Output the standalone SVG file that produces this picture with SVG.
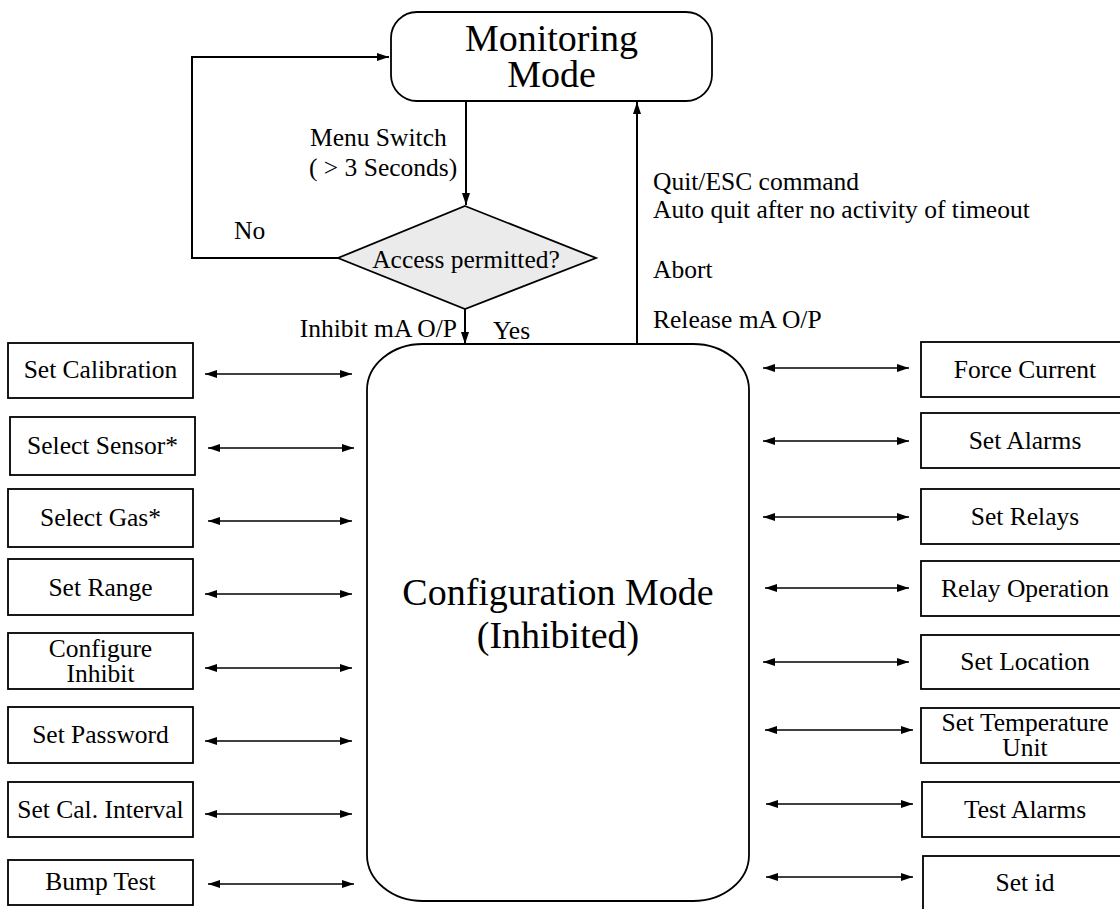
<svg xmlns="http://www.w3.org/2000/svg" width="1120" height="909" viewBox="0 0 1120 909">
<style>
text{font-family:"Liberation Serif","Times New Roman",serif;fill:#000}
.s{font-size:25.5px}
.b{font-size:38px}
.c{text-anchor:middle}
.box{fill:#fff;stroke:#000;stroke-width:1.8}
.ln{fill:none;stroke:#000;stroke-width:2}
.da{fill:none;stroke:#000;stroke-width:1.7;marker-start:url(#ah);marker-end:url(#ah)}
</style>
<defs>
<marker id="ah" viewBox="0 0 12 8" refX="12" refY="4" markerWidth="12" markerHeight="8" markerUnits="userSpaceOnUse" orient="auto-start-reverse">
<path d="M0,0 L12,4 L0,8 z" fill="#000"/>
</marker>
</defs>
<rect width="1120" height="909" fill="#fff"/>

<g id="connectors">
<path class="ln" d="M338,258 H192 V57 H389" marker-end="url(#ah)"/>
<path class="ln" d="M466,101 V205" marker-end="url(#ah)"/>
<path class="ln" d="M465,309 V344" marker-end="url(#ah)"/>
<path class="ln" d="M637,344 V102" marker-end="url(#ah)"/>
<path class="da" d="M205,374 H352"/>
<path class="da" d="M208,448 H354"/>
<path class="da" d="M208,521 H352"/>
<path class="da" d="M205,594 H352"/>
<path class="da" d="M205,668 H352"/>
<path class="da" d="M205,741 H352"/>
<path class="da" d="M205,814 H352"/>
<path class="da" d="M208,884 H354"/>
<path class="da" d="M763,368 H909"/>
<path class="da" d="M763,441 H909"/>
<path class="da" d="M763,517 H909"/>
<path class="da" d="M765,588 H909"/>
<path class="da" d="M763,662 H909"/>
<path class="da" d="M765,730 H913"/>
<path class="da" d="M766,804 H913"/>
<path class="da" d="M766,877 H913"/>
<text class="s" x="310" y="146">Menu Switch</text>
<text class="s" x="309" y="176">( &gt; 3 Seconds)</text>
<text class="s" x="234" y="239">No</text>
<text class="s" x="457" y="337" text-anchor="end">Inhibit mA O/P</text>
<text class="s" x="493" y="339">Yes</text>
<text class="s" x="653" y="190">Quit/ESC command</text>
<text class="s" x="653" y="218">Auto quit after no activity of timeout</text>
<text class="s" x="653" y="278">Abort</text>
<text class="s" x="653" y="328">Release mA O/P</text>
</g>

<g id="monitoring">
<rect class="box" x="391" y="12" width="321" height="89" rx="26" ry="26"/>
<text class="b c" x="551.5" y="51">Monitoring</text>
<text class="b c" x="551.5" y="87">Mode</text>
</g>

<g id="access">
<polygon points="465,206 596,258 465,309 338,258" fill="#ebebeb" stroke="#000" stroke-width="1.8"/>
<text class="s c" x="466" y="268">Access permitted?</text>
</g>

<g id="config">
<rect class="box" x="367" y="344" width="382" height="557" rx="56" ry="46"/>
<text class="b c" x="558" y="605">Configuration Mode</text>
<text class="b c" x="558" y="648">(Inhibited)</text>
</g>

<g id="set-calibration"><rect class="box" x="8" y="343" width="185" height="55"/><text class="s c" x="100.5" y="378">Set Calibration</text></g>
<g id="select-sensor"><rect class="box" x="10" y="417" width="185" height="58"/><text class="s c" x="102.5" y="454">Select Sensor*</text></g>
<g id="select-gas"><rect class="box" x="8" y="489" width="185" height="58"/><text class="s c" x="100.5" y="526">Select Gas*</text></g>
<g id="set-range"><rect class="box" x="8" y="559" width="185" height="56"/><text class="s c" x="100.5" y="596">Set Range</text></g>
<g id="configure-inhibit"><rect class="box" x="8" y="633" width="185" height="56"/><text class="s c" x="100.5" y="657">Configure</text><text class="s c" x="100.5" y="682">Inhibit</text></g>
<g id="set-password"><rect class="box" x="8" y="707" width="185" height="56"/><text class="s c" x="100.5" y="743">Set Password</text></g>
<g id="set-cal-interval"><rect class="box" x="8" y="782" width="185" height="55"/><text class="s c" x="100.5" y="818">Set Cal. Interval</text></g>
<g id="bump-test"><rect class="box" x="8" y="860" width="185" height="45"/><text class="s c" x="100.5" y="890">Bump Test</text></g>

<g id="force-current"><rect class="box" x="921" y="342" width="208" height="55"/><text class="s c" x="1025" y="378">Force Current</text></g>
<g id="set-alarms"><rect class="box" x="921" y="413" width="208" height="55"/><text class="s c" x="1025" y="449">Set Alarms</text></g>
<g id="set-relays"><rect class="box" x="921" y="489" width="208" height="55"/><text class="s c" x="1025" y="525">Set Relays</text></g>
<g id="relay-operation"><rect class="box" x="921" y="561" width="208" height="55"/><text class="s c" x="1025" y="597">Relay Operation</text></g>
<g id="set-location"><rect class="box" x="921" y="635" width="208" height="54"/><text class="s c" x="1025" y="670">Set Location</text></g>
<g id="set-temperature-unit"><rect class="box" x="921" y="708" width="208" height="55"/><text class="s c" x="1025" y="731">Set Temperature</text><text class="s c" x="1025" y="756">Unit</text></g>
<g id="test-alarms"><rect class="box" x="922" y="782" width="207" height="55"/><text class="s c" x="1025" y="818">Test Alarms</text></g>
<g id="set-id"><rect class="box" x="923" y="856" width="206" height="58"/><text class="s c" x="1025" y="891">Set id</text></g>
</svg>
